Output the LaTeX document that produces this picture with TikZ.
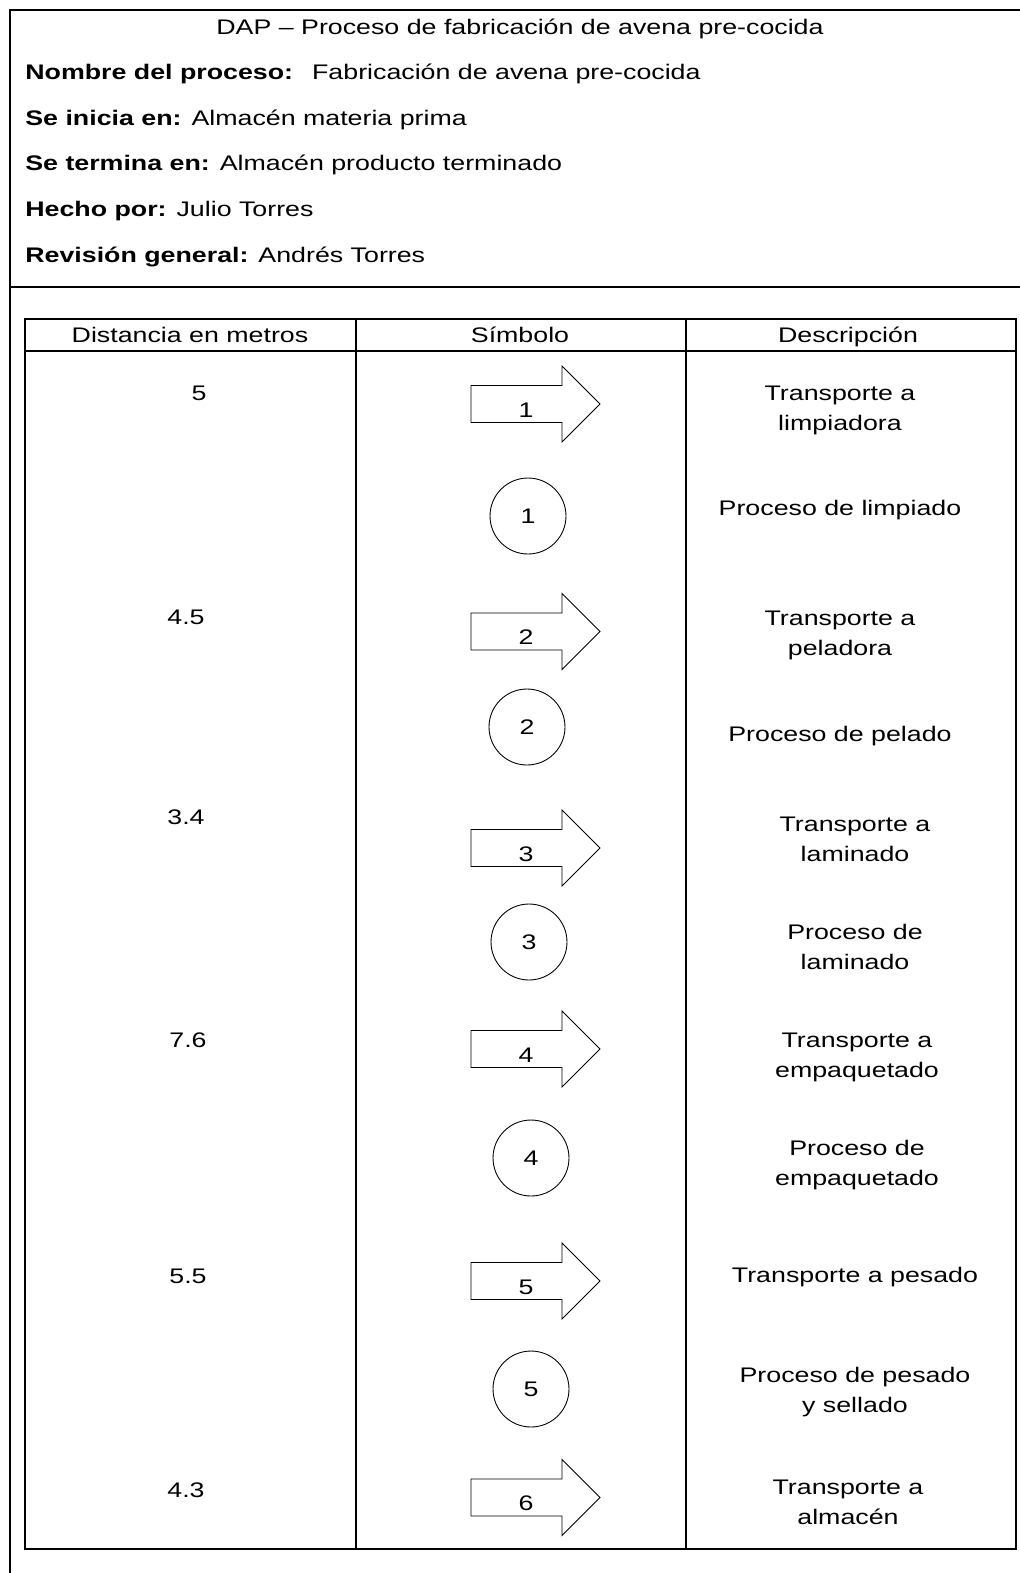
\documentclass[tikz,border=0pt]{standalone}
\usepackage{fontspec}
\setmainfont{Liberation Sans}[FakeStretch=1.27]

\begin{document}
\begin{tikzpicture}[x=0.02cm, y=-0.02cm,
  every node/.style={font=\fontsize{12}{17}\selectfont, inner sep=0pt},
  frame/.style={line width=1pt},
  sym/.style={line width=0.5pt},
  oper/.style={draw, sym, circle, minimum size=1.52cm},
  desc/.style={align=center}]
  \useasboundingbox (0,0) rectangle (1020,1573);
  % outer frame and header
  \draw[frame] (1020,10) -- (10,10) -- (10,1573);
  \draw[frame] (10,287) -- (1020,287);
  \node[anchor=base] (title) at (520,34) {DAP -- Proceso de fabricación de avena pre-cocida};
  \node[anchor=base west] (nombre) at (25,79) {\textbf{Nombre del proceso:}\hspace{0.9em}Fabricación de avena pre-cocida};
  \node[anchor=base west] (inicia) at (25,125) {\textbf{Se inicia en:} Almacén materia prima};
  \node[anchor=base west] (termina) at (25,170) {\textbf{Se termina en:} Almacén producto terminado};
  \node[anchor=base west] (hecho) at (25,216) {\textbf{Hecho por:} Julio Torres};
  \node[anchor=base west] (revision) at (25,262) {\textbf{Revisión general:} Andrés Torres};
  % table
  \draw[frame] (25,319) rectangle (1016,1549);
  \draw[frame] (25,351) -- (1016,351);
  \draw[frame] (356,319) -- (356,1549);
  \draw[frame] (686,319) -- (686,1549);
  \node[anchor=base] (hdist) at (190,342) {Distancia en metros};
  \node[anchor=base] (hsym) at (520,342) {Símbolo};
  \node[anchor=base] (hdesc) at (848,342) {Descripción};
  % distances
  \node (d1) at (199,393) {5};
  \node (d2) at (186,617) {4.5};
  \node (d3) at (186,817) {3.4};
  \node (d4) at (188,1040) {7.6};
  \node (d5) at (188,1276) {5.5};
  \node (d6) at (186,1490) {4.3};
  % transport arrows
  \draw[sym] (471,385.5) -- (562,385.5) -- (562,366) -- (600,404) -- (562,442) -- (562,422.5) -- (471,422.5) -- cycle;
  \node (t1) at (526,410) {1};
  \draw[sym] (471,613) -- (562,613) -- (562,593.5) -- (600,631.5) -- (562,669.5) -- (562,650) -- (471,650) -- cycle;
  \node (t2) at (526,637.5) {2};
  \draw[sym] (471,829.5) -- (562,829.5) -- (562,810) -- (600,848) -- (562,886) -- (562,866.5) -- (471,866.5) -- cycle;
  \node (t3) at (526,854) {3};
  \draw[sym] (471,1030.5) -- (562,1030.5) -- (562,1011) -- (600,1049) -- (562,1087) -- (562,1067.5) -- (471,1067.5) -- cycle;
  \node (t4) at (526,1055) {4};
  \draw[sym] (471,1262.5) -- (562,1262.5) -- (562,1243) -- (600,1281) -- (562,1319) -- (562,1299.5) -- (471,1299.5) -- cycle;
  \node (t5) at (526,1287) {5};
  \draw[sym] (471,1479) -- (562,1479) -- (562,1459.5) -- (600,1497.5) -- (562,1535.5) -- (562,1516) -- (471,1516) -- cycle;
  \node (t6) at (526,1503.5) {6};
  % operations
  \node[oper] (o1) at (528,516) {1};
  \node[oper] (o2) at (527,727) {2};
  \node[oper] (o3) at (529,942) {3};
  \node[oper] (o4) at (531,1158) {4};
  \node[oper] (o5) at (531,1389) {5};
  % descriptions
  \node[desc] (e1) at (840,410) {Transporte a\\limpiadora};
  \node[desc] (e2) at (840,510) {Proceso de limpiado};
  \node[desc] (e3) at (840,635) {Transporte a\\peladora};
  \node[desc] (e4) at (840,736) {Proceso de pelado};
  \node[desc] (e5) at (855,839) {Transporte a\\laminado};
  \node[desc] (e6) at (855,947) {Proceso de\\laminado};
  \node[desc] (e7) at (857,1057) {Transporte a\\empaquetado};
  \node[desc] (e8) at (857,1165) {Proceso de\\empaquetado};
  \node[desc] (e9) at (855,1277) {Transporte a pesado};
  \node[desc] (e10) at (855,1392) {Proceso de pesado\\y sellado};
  \node[desc] (e11) at (848,1502) {Transporte a\\almacén};
\end{tikzpicture}
\end{document}
